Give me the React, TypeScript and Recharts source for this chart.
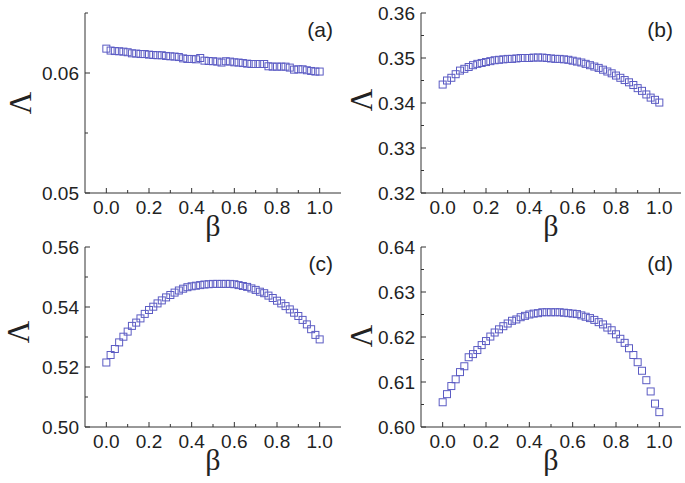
import { ScatterChart, Scatter, XAxis, YAxis } from 'recharts'

const INK = '#222'
const AXIS = '#333'
const MARK = '#5c5cc4'
const SANS = '"Liberation Sans", Arial, sans-serif'
const SERIF = '"Liberation Serif", "Times New Roman", serif'

const BETA = [
  0, 0.02, 0.04, 0.06, 0.08, 0.1, 0.12, 0.14, 0.16, 0.18,
  0.2, 0.22, 0.24, 0.26, 0.28, 0.3, 0.32, 0.34, 0.36, 0.38,
  0.4, 0.42, 0.44, 0.46, 0.48, 0.5, 0.52, 0.54, 0.56, 0.58,
  0.6, 0.62, 0.64, 0.66, 0.68, 0.7, 0.72, 0.74, 0.76, 0.78,
  0.8, 0.82, 0.84, 0.86, 0.88, 0.9, 0.92, 0.94, 0.96, 0.98, 1.0,
]

const LAMBDA_A = [
  0.06203, 0.06187, 0.06183, 0.06181, 0.06178, 0.06173, 0.06164, 0.06162, 0.06158, 0.06158,
  0.06153, 0.0615, 0.06148, 0.06148, 0.06142, 0.06139, 0.06137, 0.06133, 0.06122, 0.06117,
  0.06117, 0.06114, 0.06125, 0.06103, 0.061, 0.06098, 0.06095, 0.06087, 0.06098, 0.06095,
  0.06089, 0.06087, 0.06083, 0.06078, 0.06075, 0.06075, 0.06075, 0.06075, 0.06056, 0.06053,
  0.06053, 0.06053, 0.06053, 0.06045, 0.06028, 0.06031, 0.06031, 0.06023, 0.06017, 0.06012, 0.06012,
]

const LAMBDA_B = [
  0.3441, 0.345, 0.3456, 0.3464, 0.3472, 0.3476, 0.348, 0.3484, 0.3487, 0.3489,
  0.3491, 0.3493, 0.3495, 0.3496, 0.3497, 0.3498, 0.3498, 0.3499, 0.35, 0.35,
  0.35, 0.3501, 0.3501, 0.3501, 0.35, 0.3499, 0.3498, 0.3498, 0.3497, 0.3496,
  0.3494, 0.3492, 0.349, 0.3487, 0.3484, 0.3481, 0.3478, 0.3474, 0.347, 0.3466,
  0.3461, 0.3456, 0.3451, 0.3446, 0.344, 0.3433, 0.3427, 0.3419, 0.3412, 0.3407, 0.3401,
]

const LAMBDA_C = [
  0.5215, 0.524, 0.526, 0.5282, 0.5301, 0.5318, 0.5337, 0.5348, 0.5362, 0.5377,
  0.539, 0.5401, 0.5412, 0.5422, 0.5432, 0.544, 0.5448, 0.5455, 0.5461, 0.5466,
  0.5469, 0.5471, 0.5473, 0.5475, 0.5476, 0.5477, 0.5477, 0.5477, 0.5477, 0.5477,
  0.5476, 0.5473, 0.547, 0.5467, 0.5462, 0.5457, 0.5451, 0.5446, 0.5438, 0.543,
  0.5421, 0.5412, 0.5403, 0.5392, 0.5381, 0.537, 0.5357, 0.5342, 0.5326, 0.5307, 0.5292,
]

const LAMBDA_D = [
  0.6055, 0.6073, 0.6091, 0.6106, 0.6122, 0.6135, 0.6155, 0.6162, 0.6171, 0.6182,
  0.6191, 0.6201, 0.621, 0.6217, 0.6224, 0.623, 0.6236, 0.6239, 0.6244, 0.6247,
  0.625, 0.6252, 0.6253, 0.6255, 0.6255, 0.6255, 0.6255, 0.6255, 0.6254, 0.6253,
  0.6252, 0.6251, 0.6248, 0.6245, 0.6242, 0.6238, 0.6233, 0.6228, 0.6221, 0.6215,
  0.6206, 0.6196, 0.6187, 0.6175, 0.616, 0.6144, 0.6125, 0.6104, 0.6079, 0.6052, 0.6033,
]

const X_TICKS = [0, 0.1, 0.2, 0.3, 0.4, 0.5, 0.6, 0.7, 0.8, 0.9, 1.0]
const X_LABELS = ['0.0', '', '0.2', '', '0.4', '', '0.6', '', '0.8', '', '1.0']

const Y_TICKS_A = [0.05, 0.055, 0.06, 0.065]
const Y_LABELS_A = ['0.05', '', '0.06', '']
const Y_TICKS_B = [0.32, 0.325, 0.33, 0.335, 0.34, 0.345, 0.35, 0.355, 0.36]
const Y_LABELS_B = ['0.32', '', '0.33', '', '0.34', '', '0.35', '', '0.36']
const Y_TICKS_C = [0.5, 0.51, 0.52, 0.53, 0.54, 0.55, 0.56]
const Y_LABELS_C = ['0.50', '', '0.52', '', '0.54', '', '0.56']
const Y_TICKS_D = [0.6, 0.605, 0.61, 0.615, 0.62, 0.625, 0.63, 0.635, 0.64]
const Y_LABELS_D = ['0.60', '', '0.61', '', '0.62', '', '0.63', '', '0.64']

const labelFor = (ticks: number[], labels: string[], v: number) => {
  const i = ticks.findIndex((t) => Math.abs(t - v) < 1e-9)
  return i < 0 ? '' : labels[i]
}

function XTick({ x, y, payload, ticks, labels, dir, text }: any) {
  const lab = labelFor(ticks, labels, payload.value)
  const len = lab ? 5 : 3
  return (
    <g>
      <line x1={x} x2={x} y1={y} y2={y + dir * len} stroke={AXIS} />
      {text && lab && (
        <text x={x} y={y + 21} textAnchor="middle" fontSize={19} fill={INK} fontFamily={SANS}>
          {lab}
        </text>
      )}
    </g>
  )
}

function YTick({ x, y, payload, ticks, labels, dir, text }: any) {
  const lab = labelFor(ticks, labels, payload.value)
  const len = lab ? 5 : 3
  return (
    <g>
      <line x1={x} x2={x + dir * len} y1={y} y2={y} stroke={AXIS} />
      {text && lab && (
        <text x={x - 6} y={y} dy="0.36em" textAnchor="end" fontSize={19} fill={INK} fontFamily={SANS}>
          {lab}
        </text>
      )}
    </g>
  )
}

const Square = (p: any) => (
  <rect x={p.cx - 3.5} y={p.cy - 3.5} width={7} height={7} fill="none" stroke={MARK} strokeWidth={1} />
)

type PanelProps = {
  tag: string
  values: number[]
  yDomain: [number, number]
  yTicks: number[]
  yLabels: string[]
  left: number
  top: number
  width: number
  height: number
  box: { l: number; t: number; r: number; b: number }
  lamX: number
  lamDy: number
}

function Panel(p: PanelProps) {
  const data = BETA.map((b, i) => ({ beta: b, lam: p.values[i] }))
  const xDom: [number, number] = [-0.1, 1.1]
  return (
    <div style={{ position: 'absolute', left: p.left, top: p.top }}>
      <ScatterChart
        width={p.width}
        height={p.height}
        margin={{ top: p.box.t, right: p.width - p.box.r, left: 0, bottom: 0 }}
      >
        <XAxis
          dataKey="beta"
          type="number"
          domain={xDom}
          ticks={X_TICKS}
          interval={0}
          allowDataOverflow
          height={p.height - p.box.b}
          axisLine={{ stroke: AXIS }}
          tickLine={false}
          tickSize={0}
          tickMargin={0}
          tick={(t: any) => <XTick {...t} ticks={X_TICKS} labels={X_LABELS} dir={-1} text />}
          label={{
            content: (lp: any) => {
              const vb = lp.viewBox
              return (
                <text x={vb.x + vb.width / 2} y={vb.y + 43} textAnchor="middle" fontSize={30} fill={INK} fontFamily={SERIF}>
                  β
                </text>
              )
            },
          }}
        />
        <XAxis
          xAxisId="top"
          orientation="top"
          type="number"
          domain={xDom}
          ticks={X_TICKS}
          interval={0}
          allowDataOverflow
          height={0}
          axisLine={{ stroke: AXIS }}
          tickLine={false}
          tickSize={0}
          tickMargin={0}
          tick={(t: any) => <XTick {...t} ticks={X_TICKS} labels={X_LABELS} dir={1} text={false} />}
        />
        <YAxis
          dataKey="lam"
          type="number"
          domain={p.yDomain}
          ticks={p.yTicks}
          interval={0}
          allowDataOverflow
          width={p.box.l}
          axisLine={{ stroke: AXIS }}
          tickLine={false}
          tickSize={0}
          tickMargin={0}
          tick={(t: any) => <YTick {...t} ticks={p.yTicks} labels={p.yLabels} dir={1} text />}
          label={{
            content: (lp: any) => {
              const vb = lp.viewBox
              const cy = vb.y + vb.height / 2 + p.lamDy
              return (
                <text
                  x={p.lamX}
                  y={cy}
                  textAnchor="middle"
                  fontSize={31}
                  fill={INK}
                  fontFamily={SERIF}
                  transform={`rotate(-90, ${p.lamX}, ${cy})`}
                >
                  Λ
                </text>
              )
            },
          }}
        />
        <YAxis
          yAxisId="right"
          orientation="right"
          type="number"
          domain={p.yDomain}
          ticks={p.yTicks}
          interval={0}
          allowDataOverflow
          width={0}
          axisLine={{ stroke: AXIS }}
          tickLine={false}
          tickSize={0}
          tickMargin={0}
          tick={(t: any) => <YTick {...t} ticks={p.yTicks} labels={p.yLabels} dir={-1} text={false} />}
        />
        <Scatter data={data} shape={Square} isAnimationActive={false} />
        <text
          x={p.box.r - 8}
          y={p.box.t + 24}
          textAnchor="end"
          fontSize={21}
          fill={INK}
          fontFamily={SANS}
        >
          {p.tag}
        </text>
      </ScatterChart>
    </div>
  )
}

export default function App() {
  return (
    <div
      style={{
        position: 'absolute',
        left: 0,
        top: 0,
        width: 685,
        height: 483,
        background: '#fff',
        overflow: 'hidden',
      }}
    >
      <Panel
        tag="(a)"
        values={LAMBDA_A}
        yDomain={[0.05, 0.065]}
        yTicks={Y_TICKS_A}
        yLabels={Y_LABELS_A}
        left={0}
        top={0}
        width={345}
        height={250}
        box={{ l: 85, t: 13, r: 341, b: 193 }}
        lamX={31}
        lamDy={0}
      />
      <Panel
        tag="(b)"
        values={LAMBDA_B}
        yDomain={[0.32, 0.36]}
        yTicks={Y_TICKS_B}
        yLabels={Y_LABELS_B}
        left={342}
        top={0}
        width={343}
        height={250}
        box={{ l: 79, t: 13, r: 339, b: 193 }}
        lamX={30}
        lamDy={-3}
      />
      <Panel
        tag="(c)"
        values={LAMBDA_C}
        yDomain={[0.5, 0.56]}
        yTicks={Y_TICKS_C}
        yLabels={Y_LABELS_C}
        left={0}
        top={228}
        width={345}
        height={255}
        box={{ l: 85, t: 19, r: 341, b: 199 }}
        lamX={29}
        lamDy={-5}
      />
      <Panel
        tag="(d)"
        values={LAMBDA_D}
        yDomain={[0.6, 0.64]}
        yTicks={Y_TICKS_D}
        yLabels={Y_LABELS_D}
        left={342}
        top={228}
        width={343}
        height={255}
        box={{ l: 79, t: 19, r: 339, b: 199 }}
        lamX={30}
        lamDy={-1}
      />
    </div>
  )
}
